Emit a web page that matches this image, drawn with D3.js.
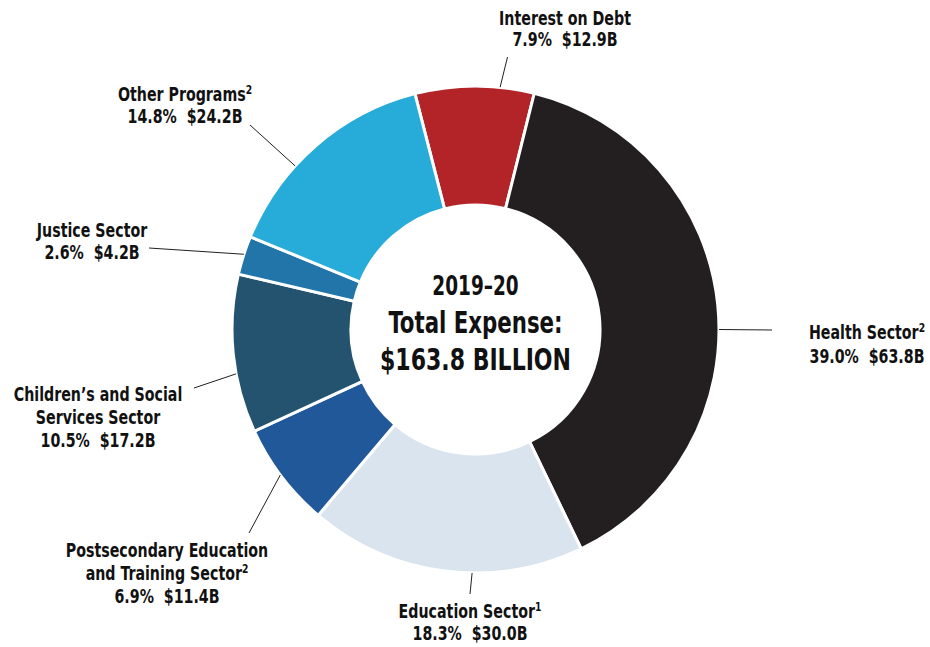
<!DOCTYPE html>
<html>
<head>
<meta charset="utf-8">
<script src="https://cdn.jsdelivr.net/npm/d3@7"></script>
<style>
  html, body { margin: 0; padding: 0; background: #fff; }
  svg { display: block; }
  text { font-family: "DejaVu Sans Condensed", "DejaVu Sans", sans-serif; font-weight: bold; fill: #111; }
</style>
</head>
<body>
<svg id="chart" width="930" height="647"></svg>
<script>
// 2019–20 total expense by sector
const sectors = [
  "Interest on Debt",
  "Health Sector",
  "Education Sector",
  "Postsecondary Education and Training Sector",
  "Children’s and Social Services Sector",
  "Justice Sector",
  "Other Programs"
];
const amounts = [12.9, 63.8, 30.0, 11.4, 17.2, 4.2, 24.2];   // $ billions
const shares  = [7.9, 39.0, 18.3, 6.9, 10.5, 2.6, 14.8];     // percent of total
const notes   = ["", "2", "1", "2", "", "", "2"];            // footnote markers
const colors  = ["#b32428", "#231f20", "#dae4ef", "#21589a", "#23536f", "#2275a8", "#27abd8"];
const totalLabel = ["2019–20", "Total Expense:", "$163.8 BILLION"];

// label text lines (footnote attached to the last name line)
const nameLines = [
  ["Interest on Debt"],
  ["Health Sector"],
  ["Education Sector"],
  ["Postsecondary Education", "and Training Sector"],
  ["Children’s and Social", "Services Sector"],
  ["Justice Sector"],
  ["Other Programs"]
];

// label layout: anchor x, first baseline y, line height, leader angle (deg), leader end point
const layout = [
  { x: 565, y: 25,  lh: 21,   ang: 5.8,    end: [507.5, 57] },
  { x: 867, y: 339, lh: 24.5, ang: 90,     end: [772, 330] },
  { x: 470, y: 618, lh: 22,   ang: 180.8,  end: [470, 594] },
  { x: 167, y: 557, lh: 23,   ang: -126.7, end: [249, 533] },
  { x: 98,  y: 401, lh: 23,   ang: -100.5, end: [194, 388] },
  { x: 92,  y: 237.5, lh: 21.5, ang: -72,  end: [149, 248] },
  { x: 185, y: 101.5, lh: 21.5, ang: -47.8, end: [250, 125] }
];

// condensed look: squeeze text horizontally around its anchor
const squeeze = 0.79;

const svg = d3.select("#chart");
const cx = 475.5, cy = 329.5;
const rOuter = 243.5, rInner = 124.5;
const rad = d => d * Math.PI / 180;
const start = rad(-14.4);

const pie = d3.pie().sort(null).value(d => d).startAngle(start).endAngle(start + 2 * Math.PI);
const arc = d3.arc().innerRadius(rInner).outerRadius(rOuter);

const g = svg.append("g").attr("transform", `translate(${cx},${cy})`);

g.selectAll("path.slice")
  .data(pie(amounts))
  .join("path")
  .attr("class", "slice")
  .attr("d", arc)
  .attr("fill", (d, i) => colors[i])
  .attr("stroke", "#fff")
  .attr("stroke-width", 3)
  .attr("stroke-linejoin", "miter");

// leader lines from the outer rim to each label
sectors.forEach((s, i) => {
  const L = layout[i];
  const a = rad(L.ang);
  const x0 = cx + rOuter * Math.sin(a);
  const y0 = cy - rOuter * Math.cos(a);
  svg.append("line")
    .attr("x1", x0).attr("y1", y0)
    .attr("x2", L.end[0]).attr("y2", L.end[1])
    .attr("stroke", "#231f20")
    .attr("stroke-width", 1);
});

// labels
sectors.forEach((s, i) => {
  const L = layout[i];
  const t = svg.append("g")
    .attr("transform", `translate(${L.x},0) scale(${squeeze},1)`)
    .append("text")
    .attr("text-anchor", "middle")
    .attr("font-size", 20);
  const lines = nameLines[i];
  lines.forEach((ln, k) => {
    t.append("tspan")
      .attr("x", 0)
      .attr("y", L.y + k * L.lh)
      .text(ln);
    if (k === lines.length - 1 && notes[i]) {
      t.append("tspan")
        .attr("font-size", 13)
        .attr("dy", -7)
        .text(notes[i]);
    }
  });
  t.append("tspan")
    .attr("x", 0)
    .attr("y", L.y + lines.length * L.lh)
    .text(`${shares[i].toFixed(1)}%\u00a0\u00a0$${amounts[i].toFixed(1)}B`);
});

// centre total
const centre = [
  { y: 295, size: 26 },
  { y: 333, size: 30 },
  { y: 370, size: 31 }
];
totalLabel.forEach((txt, i) => {
  svg.append("g")
    .attr("transform", `translate(${cx},0) scale(${squeeze},1)`)
    .append("text")
    .attr("x", 0)
    .attr("y", centre[i].y)
    .attr("text-anchor", "middle")
    .attr("font-size", centre[i].size)
    .text(txt);
});
</script>
</body>
</html>
